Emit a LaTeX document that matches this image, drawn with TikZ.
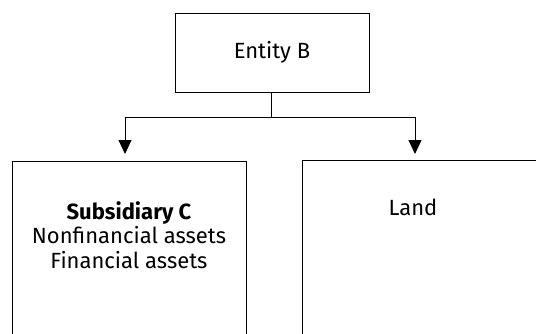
\documentclass[tikz,border=0pt]{standalone}
\usepackage{fontspec}
\setmainfont{Fira Sans}
\usetikzlibrary{arrows.meta}
\tikzset{
  box/.style={draw, line width=0.9pt, inner sep=0pt},
  conn/.style={draw, line width=1pt},
  arr/.style={conn, -{Triangle[width=13pt,length=14pt]}},
  lbl/.style={font=\fontsize{22}{24.5}\selectfont, align=center, inner sep=0pt}
}
\begin{document}
\begin{tikzpicture}[x=1pt,y=-1pt]
\useasboundingbox (0,0) rectangle (536,333);
\clip (0,0) rectangle (536,333);
\node[box, minimum width=194pt, minimum height=79pt] (b) at (272,52.5) {};
\node[lbl] (bt) at (b.center) {Entity B};
\draw[box] (12,345) -- (12,161) -- (246,161) -- (246,345);
\draw[box] (302,345) -- (302,160) -- (560,160);
\coordinate (c) at (125,154);
\coordinate (l) at (415,154);
\node[lbl] (ct) at (129,235) {\textbf{Subsidiary C}\\Nonfinancial assets\\Financial assets};
\node[lbl] (lt) at (413,207) {Land};
\coordinate (j) at (271,117);
\draw[conn] (b.south -| j) -- (j);
\draw[arr] (j) -| (c);
\draw[arr] (j) -| (l);
\end{tikzpicture}
\end{document}
